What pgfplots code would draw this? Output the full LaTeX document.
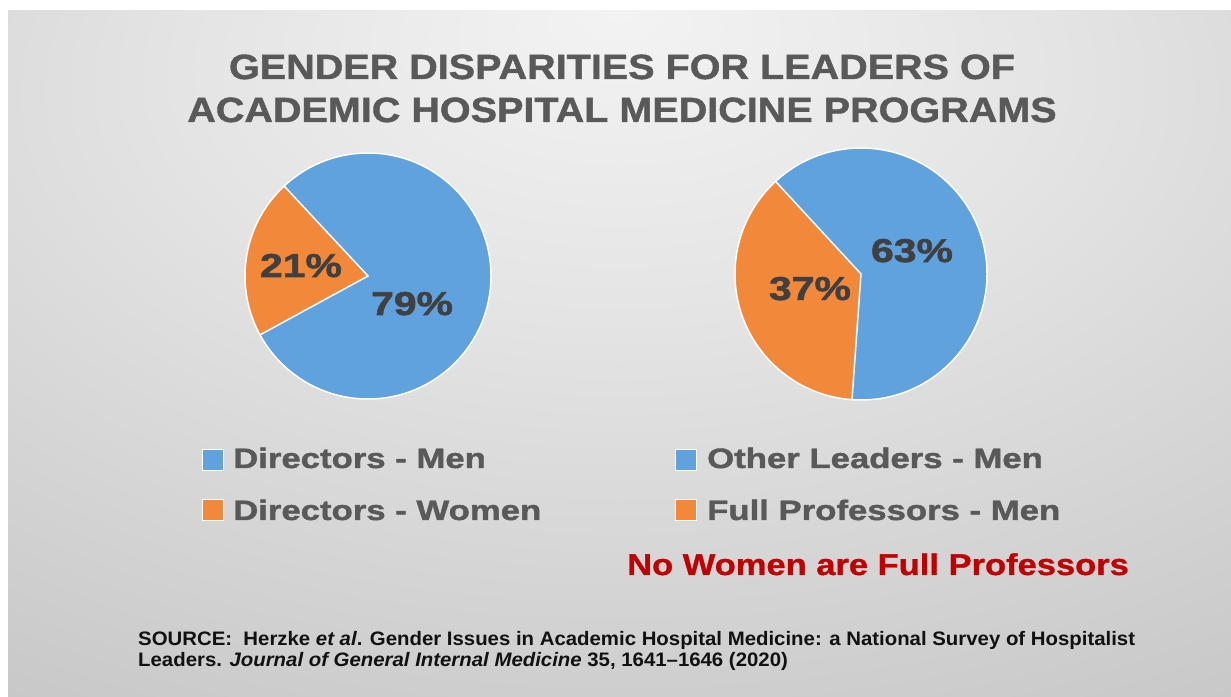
\documentclass[border=0pt]{standalone}
\usepackage{pgfplots}
\pgfplotsset{compat=1.18}
\usepackage{pgfplotstable}
\usepackage{fontspec}
\setmainfont{Liberation Sans}
\newfontfamily\titlefont{Liberation Sans}[FakeStretch=1.13, FakeBold=1.2]
\newfontfamily\legfont{Liberation Sans}[FakeStretch=1.24, FakeBold=1.5]
\newfontfamily\pctfont{Liberation Sans}[FakeStretch=1.24, FakeBold=1.8]
\newfontfamily\redfont{Liberation Sans}[FakeStretch=1.15, FakeBold=1.0]
\newfontfamily\srcfont{Liberation Sans}[FakeStretch=1.045]
\definecolor{pieblue}{HTML}{5FA2DE}
\definecolor{pieorange}{HTML}{F2883A}
\definecolor{titlegray}{HTML}{595959}
\definecolor{labelgray}{HTML}{404040}
\definecolor{redtxt}{HTML}{C00000}
\definecolor{srctxt}{HTML}{111111}
\definecolor{bgA}{HTML}{F3F3F3}
\definecolor{bgB}{HTML}{E4E4E4}
\definecolor{bgC}{HTML}{C6C6C6}
\definecolor{bgD}{HTML}{A6A6A6}
\pgfdeclareradialshading{bgshade}{\pgfpoint{0bp}{25bp}}{color(0bp)=(bgA); color(18bp)=(bgB); color(48bp)=(bgC); color(72bp)=(bgD); color(100bp)=(bgD)}

\pgfplotstableread{
group value
Men 79
Women 21
}\directors
\pgfplotstableread{
group value
Men 63
FullProf 37
}\others

\begin{document}
\begin{tikzpicture}[x=1pt,y=1pt]
\useasboundingbox (0pt,0pt) rectangle (1231pt,696pt);
\fill[white] (0pt,0pt) rectangle (1231pt,696pt);
\shade[shading=bgshade] (8pt,0pt) rectangle (1231pt,685pt);

% Title
\node[anchor=base, inner sep=0, text=titlegray, font=\titlefont\fontsize{35}{40}\selectfont\bfseries] at (622pt,617pt) {GENDER DISPARITIES FOR LEADERS OF};
\node[anchor=base, inner sep=0, text=titlegray, font=\titlefont\fontsize{35}{40}\selectfont\bfseries] at (622pt,574pt) {ACADEMIC HOSPITAL MEDICINE PROGRAMS};

% Pie 1
\begin{axis}[at={(368pt,420pt)}, anchor=center, width=246pt, height=246pt, scale only axis,
  xmin=-1, xmax=1, ymin=-1, ymax=1, hide axis, clip=false]
  \pgfplotstablegetelem{0}{value}\of\directors \let\vM\pgfplotsretval
  \pgfplotstablegetelem{1}{value}\of\directors \let\vW\pgfplotsretval
  \pgfmathsetmacro\aS{133}
  \pgfmathsetmacro\aE{133+3.6*\vW}
  \pgfmathsetmacro\aF{\aE+3.6*\vM}
  \fill[pieblue] (axis cs:0,0) -- ++(\aE:123pt) arc[start angle=\aE, end angle=\aF, radius=123pt] -- cycle;
  \fill[pieorange] (axis cs:0,0) -- ++(\aS:123pt) arc[start angle=\aS, end angle=\aE, radius=123pt] -- cycle;
  \draw[white, line width=1.5pt] (axis cs:0,0) circle[radius=123pt];
  \draw[white, line width=1.5pt] ([shift={(\aS:123pt)}]axis cs:0,0) -- (axis cs:0,0) -- ([shift={(\aE:123pt)}]axis cs:0,0);
  \node[anchor=base, inner sep=0, text=labelgray, font=\pctfont\fontsize{33}{36}\selectfont\bfseries] at (axis cs:-0.545,-0.008) {\vW\%};
  \node[anchor=base, inner sep=0, text=labelgray, font=\pctfont\fontsize{33}{36}\selectfont\bfseries] at (axis cs:0.358,-0.317) {\vM\%};
\end{axis}

% Pie 2
\begin{axis}[at={(861pt,422pt)}, anchor=center, width=252pt, height=252pt, scale only axis,
  xmin=-1, xmax=1, ymin=-1, ymax=1, hide axis, clip=false]
  \pgfplotstablegetelem{0}{value}\of\others \let\vM\pgfplotsretval
  \pgfplotstablegetelem{1}{value}\of\others \let\vW\pgfplotsretval
  \pgfmathsetmacro\aS{132.7}
  \pgfmathsetmacro\aE{132.7+3.6*\vW}
  \pgfmathsetmacro\aF{\aE+3.6*\vM}
  \fill[pieblue] (axis cs:0,0) -- ++(\aE:126pt) arc[start angle=\aE, end angle=\aF, radius=126pt] -- cycle;
  \fill[pieorange] (axis cs:0,0) -- ++(\aS:126pt) arc[start angle=\aS, end angle=\aE, radius=126pt] -- cycle;
  \draw[white, line width=1.5pt] (axis cs:0,0) circle[radius=126pt];
  \draw[white, line width=1.5pt] ([shift={(\aS:126pt)}]axis cs:0,0) -- (axis cs:0,0) -- ([shift={(\aE:126pt)}]axis cs:0,0);
  \node[anchor=base, inner sep=0, text=labelgray, font=\pctfont\fontsize{33}{36}\selectfont\bfseries] at (axis cs:-0.405,-0.206) {\vW\%};
  \node[anchor=base, inner sep=0, text=labelgray, font=\pctfont\fontsize{33}{36}\selectfont\bfseries] at (axis cs:0.405,0.095) {\vM\%};
\end{axis}

% Legends
\draw[white, line width=1pt, fill=pieblue] (202pt,225pt) rectangle (223pt,246pt);
\draw[white, line width=1pt, fill=pieorange] (202pt,175pt) rectangle (223pt,196pt);
\node[anchor=base west, inner sep=0, text=titlegray, font=\legfont\fontsize{28}{32}\selectfont\bfseries] at (233pt,228pt) {Directors - Men};
\node[anchor=base west, inner sep=0, text=titlegray, font=\legfont\fontsize{28}{32}\selectfont\bfseries] at (233pt,176pt) {Directors - Women};
\draw[white, line width=1pt, fill=pieblue] (675pt,225pt) rectangle (696pt,246pt);
\draw[white, line width=1pt, fill=pieorange] (675pt,175pt) rectangle (696pt,196pt);
\node[anchor=base west, inner sep=0, text=titlegray, font=\legfont\fontsize{28}{32}\selectfont\bfseries] at (707pt,228pt) {Other Leaders - Men};
\node[anchor=base west, inner sep=0, text=titlegray, font=\legfont\fontsize{28}{32}\selectfont\bfseries] at (707pt,176pt) {Full Professors - Men};

\node[anchor=base west, inner sep=0, text=redtxt, font=\redfont\fontsize{30}{34}\selectfont\bfseries] at (627pt,121pt) {No Women are Full Professors};

% Source
\node[anchor=base west, inner sep=0, text=srctxt, font=\srcfont\fontsize{19.5}{22}\selectfont\bfseries] at (138pt,51pt) {SOURCE:\ \ Herzke \textit{et al}. Gender Issues in Academic Hospital Medicine: a National Survey of Hospitalist};
\node[anchor=base west, inner sep=0, text=srctxt, font=\srcfont\fontsize{19.5}{22}\selectfont\bfseries] at (138pt,30pt) {Leaders. \textit{Journal of General Internal Medicine} 35, 1641–1646 (2020)};
\end{tikzpicture}
\end{document}
